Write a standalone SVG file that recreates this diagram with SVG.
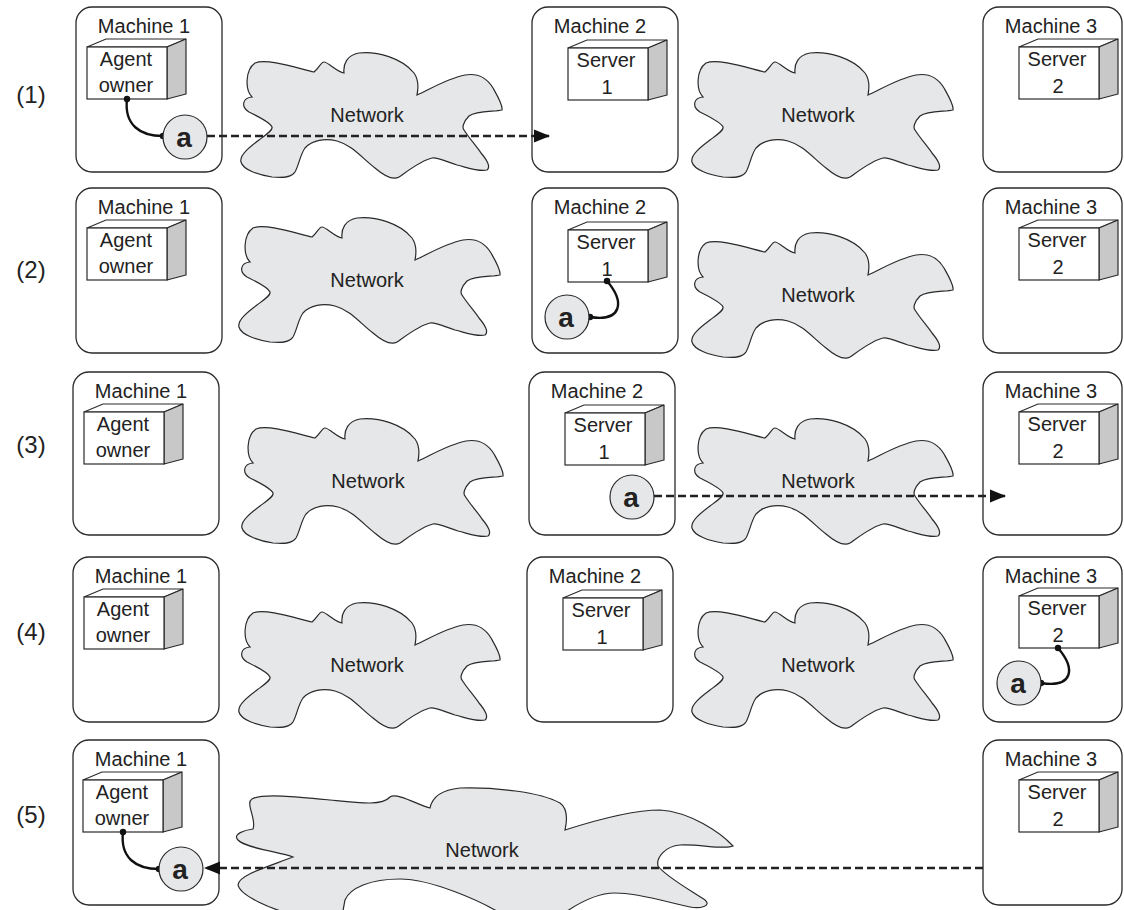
<svg xmlns="http://www.w3.org/2000/svg" xmlns:xlink="http://www.w3.org/1999/xlink" width="1124" height="910" viewBox="0 0 1124 910">
  <style>
    text { font-family: "Liberation Sans", Arial, Helvetica, sans-serif; fill: #222; }
    .lbl { font-size: 20px; text-anchor: middle; }
    .row { font-size: 24px; text-anchor: middle; }
    .agent-a { font-size: 28px; font-weight: bold; text-anchor: middle; }
    .machine { fill: #fff; stroke: #2a2a2a; stroke-width: 1.3; }
    .cloud { fill: #e6e7e8; stroke: #2a2a2a; stroke-width: 1.2; }
    .front { fill: #fff; stroke: #2a2a2a; stroke-width: 1.2; }
    .side { fill: #c8c8c8; stroke: #2a2a2a; stroke-width: 1.2; stroke-linejoin: round; }
    .agent { fill: #e6e7e8; stroke: #2a2a2a; stroke-width: 1.2; }
    .dash { fill: none; stroke: #222; stroke-width: 2.4; stroke-dasharray: 8 4; }
    .tether { fill: none; stroke: #111; stroke-width: 2.4; }
    .dot { fill: #111; }
  </style>
  <defs>
    <marker id="arrow" markerWidth="16" markerHeight="14" refX="15" refY="7" orient="auto" markerUnits="userSpaceOnUse">
      <path d="M0,0.5 L16,7 L0,13.5 Z" fill="#111"/>
    </marker>
    <!-- irregular network cloud, local origin at its upper-left -->
    <path id="cloud" d="M15,47 C8,40 8,20 18,13 C30,8 60,18 77,22 C82,18 84,12 87,12 C91,12 100,22 107,23 C106,14 110,5 122,3 C140,1 165,8 177,23 C182,30 181,40 180,45 C195,38 212,28 228,25 C240,23 250,28 256,38 C260,45 266,55 265,60 C258,62 240,60 232,66 C226,72 225,78 227,80 C232,88 240,97 244,103 C250,110 254,117 250,120 C242,122 232,118 220,115 C208,111 200,107 195,108 C185,110 172,120 162,127 C155,131 145,124 138,118 C125,108 115,95 100,91 C88,88 75,90 68,98 C63,105 62,115 58,122 C54,128 45,128 35,127 C22,125 6,120 4,112 C2,105 14,96 22,90 C30,84 36,80 35,77 C33,72 20,66 12,62 C4,57 5,48 15,47 Z"/>
    <!-- 3D process box: front face 80x52 at local origin -->
    <g id="box3d">
      <polygon class="front" points="0,0 19,-8 99,-8 80,0"/>
      <polygon class="side" points="80,0 99,-8 99,47 80,52"/>
      <rect class="front" x="0" y="0" width="80" height="52"/>
    </g>
  </defs>

  <!-- row numbers -->
  <g id="row-labels">
    <text class="row" x="31" y="103">(1)</text>
    <text class="row" x="31" y="278">(2)</text>
    <text class="row" x="31" y="453">(3)</text>
    <text class="row" x="31" y="640">(4)</text>
    <text class="row" x="31" y="823">(5)</text>
  </g>

  <!-- network clouds -->
  <g id="net-1a"><use xlink:href="#cloud" class="cloud" transform="translate(237,50)"/><text class="lbl" x="367" y="122">Network</text></g>
  <g id="net-1b"><use xlink:href="#cloud" class="cloud" transform="translate(688,50)"/><text class="lbl" x="818" y="122">Network</text></g>
  <g id="net-2a"><use xlink:href="#cloud" class="cloud" transform="translate(235,215)"/><text class="lbl" x="367" y="287">Network</text></g>
  <g id="net-2b"><use xlink:href="#cloud" class="cloud" transform="translate(688,230)"/><text class="lbl" x="818" y="302">Network</text></g>
  <g id="net-3a"><use xlink:href="#cloud" class="cloud" transform="translate(238,416)"/><text class="lbl" x="368" y="488">Network</text></g>
  <g id="net-3b"><use xlink:href="#cloud" class="cloud" transform="translate(688,416)"/><text class="lbl" x="818" y="488">Network</text></g>
  <g id="net-4a"><use xlink:href="#cloud" class="cloud" transform="translate(235,600)"/><text class="lbl" x="367" y="672">Network</text></g>
  <g id="net-4b"><use xlink:href="#cloud" class="cloud" transform="translate(688,600)"/><text class="lbl" x="818" y="672">Network</text></g>
  <g id="net-5">
    <path class="cloud" d="M252,799 C262,793 300,797 330,800 C360,803 382,806 390,797 C397,792 420,806 430,808 C432,798 440,790 460,788 C495,787 540,792 560,803 C570,810 566,825 565,830 C590,822 630,810 660,810 C690,812 720,832 733,846 C725,850 700,844 680,845 C665,846 656,858 658,866 C665,876 690,890 705,900 C712,906 700,909 690,907 C670,903 640,893 615,893 C595,893 575,905 560,916 L505,916 C480,900 430,879 400,879 C370,879 350,888 345,900 L342,916 L300,916 C270,910 240,895 238,885 C238,875 270,866 293,857 C280,852 245,848 238,840 C232,834 245,830 253,829 C257,820 245,803 252,799 Z"/>
    <text class="lbl" x="482" y="857">Network</text>
  </g>

  <!-- row 1 machines -->
  <g id="r1-machine1">
    <rect class="machine" x="76" y="7" width="146" height="165" rx="16"/>
    <text class="lbl" x="144" y="33">Machine 1</text>
    <use xlink:href="#box3d" x="87" y="47"/>
    <text class="lbl" x="126" y="66">Agent</text>
    <text class="lbl" x="126" y="92">owner</text>
  </g>
  <g id="r1-machine2">
    <rect class="machine" x="532" y="7" width="146" height="165" rx="16"/>
    <text class="lbl" x="600" y="33">Machine 2</text>
    <use xlink:href="#box3d" x="568" y="48"/>
    <text class="lbl" x="606" y="67">Server</text>
    <text class="lbl" x="607" y="94">1</text>
  </g>
  <g id="r1-machine3">
    <rect class="machine" x="983" y="7" width="139" height="165" rx="16"/>
    <text class="lbl" x="1051" y="33">Machine 3</text>
    <use xlink:href="#box3d" x="1019" y="47"/>
    <text class="lbl" x="1057" y="66">Server</text>
    <text class="lbl" x="1058" y="93">2</text>
  </g>

  <!-- row 2 machines -->
  <g id="r2-machine1">
    <rect class="machine" x="76" y="188" width="146" height="165" rx="16"/>
    <text class="lbl" x="144" y="214">Machine 1</text>
    <use xlink:href="#box3d" x="87" y="228"/>
    <text class="lbl" x="126" y="247">Agent</text>
    <text class="lbl" x="126" y="273">owner</text>
  </g>
  <g id="r2-machine2">
    <rect class="machine" x="532" y="188" width="146" height="165" rx="16"/>
    <text class="lbl" x="600" y="214">Machine 2</text>
    <use xlink:href="#box3d" x="568" y="230"/>
    <text class="lbl" x="606" y="249">Server</text>
    <text class="lbl" x="607" y="276">1</text>
  </g>
  <g id="r2-machine3">
    <rect class="machine" x="983" y="188" width="139" height="165" rx="16"/>
    <text class="lbl" x="1051" y="214">Machine 3</text>
    <use xlink:href="#box3d" x="1019" y="228"/>
    <text class="lbl" x="1057" y="247">Server</text>
    <text class="lbl" x="1058" y="274">2</text>
  </g>

  <!-- row 3 machines -->
  <g id="r3-machine1">
    <rect class="machine" x="73" y="372" width="146" height="163" rx="16"/>
    <text class="lbl" x="141" y="398">Machine 1</text>
    <use xlink:href="#box3d" x="84" y="412"/>
    <text class="lbl" x="123" y="431">Agent</text>
    <text class="lbl" x="123" y="457">owner</text>
  </g>
  <g id="r3-machine2">
    <rect class="machine" x="529" y="372" width="146" height="163" rx="16"/>
    <text class="lbl" x="597" y="398">Machine 2</text>
    <use xlink:href="#box3d" x="565" y="413"/>
    <text class="lbl" x="603" y="432">Server</text>
    <text class="lbl" x="604" y="459">1</text>
  </g>
  <g id="r3-machine3">
    <rect class="machine" x="983" y="372" width="139" height="163" rx="16"/>
    <text class="lbl" x="1051" y="398">Machine 3</text>
    <use xlink:href="#box3d" x="1019" y="412"/>
    <text class="lbl" x="1057" y="431">Server</text>
    <text class="lbl" x="1058" y="458">2</text>
  </g>

  <!-- row 4 machines -->
  <g id="r4-machine1">
    <rect class="machine" x="73" y="557" width="146" height="165" rx="16"/>
    <text class="lbl" x="141" y="583">Machine 1</text>
    <use xlink:href="#box3d" x="84" y="597"/>
    <text class="lbl" x="123" y="616">Agent</text>
    <text class="lbl" x="123" y="642">owner</text>
  </g>
  <g id="r4-machine2">
    <rect class="machine" x="527" y="557" width="146" height="165" rx="16"/>
    <text class="lbl" x="595" y="583">Machine 2</text>
    <use xlink:href="#box3d" x="563" y="598"/>
    <text class="lbl" x="601" y="617">Server</text>
    <text class="lbl" x="602" y="644">1</text>
  </g>
  <g id="r4-machine3">
    <rect class="machine" x="983" y="557" width="139" height="165" rx="16"/>
    <text class="lbl" x="1051" y="583">Machine 3</text>
    <use xlink:href="#box3d" x="1019" y="596"/>
    <text class="lbl" x="1057" y="615">Server</text>
    <text class="lbl" x="1058" y="642">2</text>
  </g>

  <!-- row 5 machines -->
  <g id="r5-machine1">
    <rect class="machine" x="73" y="740" width="146" height="165" rx="16"/>
    <text class="lbl" x="141" y="766">Machine 1</text>
    <use xlink:href="#box3d" x="83" y="780"/>
    <text class="lbl" x="122" y="799">Agent</text>
    <text class="lbl" x="122" y="825">owner</text>
  </g>
  <g id="r5-machine3">
    <rect class="machine" x="983" y="740" width="139" height="165" rx="16"/>
    <text class="lbl" x="1051" y="766">Machine 3</text>
    <use xlink:href="#box3d" x="1019" y="780"/>
    <text class="lbl" x="1057" y="799">Server</text>
    <text class="lbl" x="1058" y="826">2</text>
  </g>

  <!-- migration paths and agent tethers -->
  <g id="connectors">
    <line class="dash" x1="207" y1="136" x2="549" y2="136" marker-end="url(#arrow)"/>
    <line class="dash" x1="654" y1="496" x2="1005" y2="496" marker-end="url(#arrow)"/>
    <line class="dash" x1="983" y1="868" x2="205" y2="868" marker-end="url(#arrow)"/>
    <path class="tether" d="M127,99 C124,125 140,136 163,136"/>
    <circle class="dot" cx="127" cy="99" r="3.2"/>
    <circle class="dot" cx="163" cy="136" r="3.2"/>
    <path class="tether" d="M607,281 C625,302 622,322 590,317"/>
    <circle class="dot" cx="607" cy="281" r="3.2"/>
    <circle class="dot" cx="590" cy="317" r="3.2"/>
    <path class="tether" d="M1058,648 C1076,669 1073,688 1041,683"/>
    <circle class="dot" cx="1058" cy="648" r="3.2"/>
    <circle class="dot" cx="1041" cy="683" r="3.2"/>
    <path class="tether" d="M123,832 C120,858 136,869 159,869"/>
    <circle class="dot" cx="123" cy="832" r="3.2"/>
    <circle class="dot" cx="159" cy="869" r="3.2"/>
  </g>

  <!-- mobile agent -->
  <g id="agent-r1"><circle class="agent" cx="185" cy="137" r="22"/><text class="agent-a" x="184" y="147">a</text></g>
  <g id="agent-r2"><circle class="agent" cx="567" cy="317" r="22"/><text class="agent-a" x="566" y="327">a</text></g>
  <g id="agent-r3"><circle class="agent" cx="632" cy="497" r="22"/><text class="agent-a" x="631" y="507">a</text></g>
  <g id="agent-r4"><circle class="agent" cx="1019" cy="683" r="22"/><text class="agent-a" x="1018" y="693">a</text></g>
  <g id="agent-r5"><circle class="agent" cx="181" cy="869" r="22"/><text class="agent-a" x="180" y="879">a</text></g>
</svg>
